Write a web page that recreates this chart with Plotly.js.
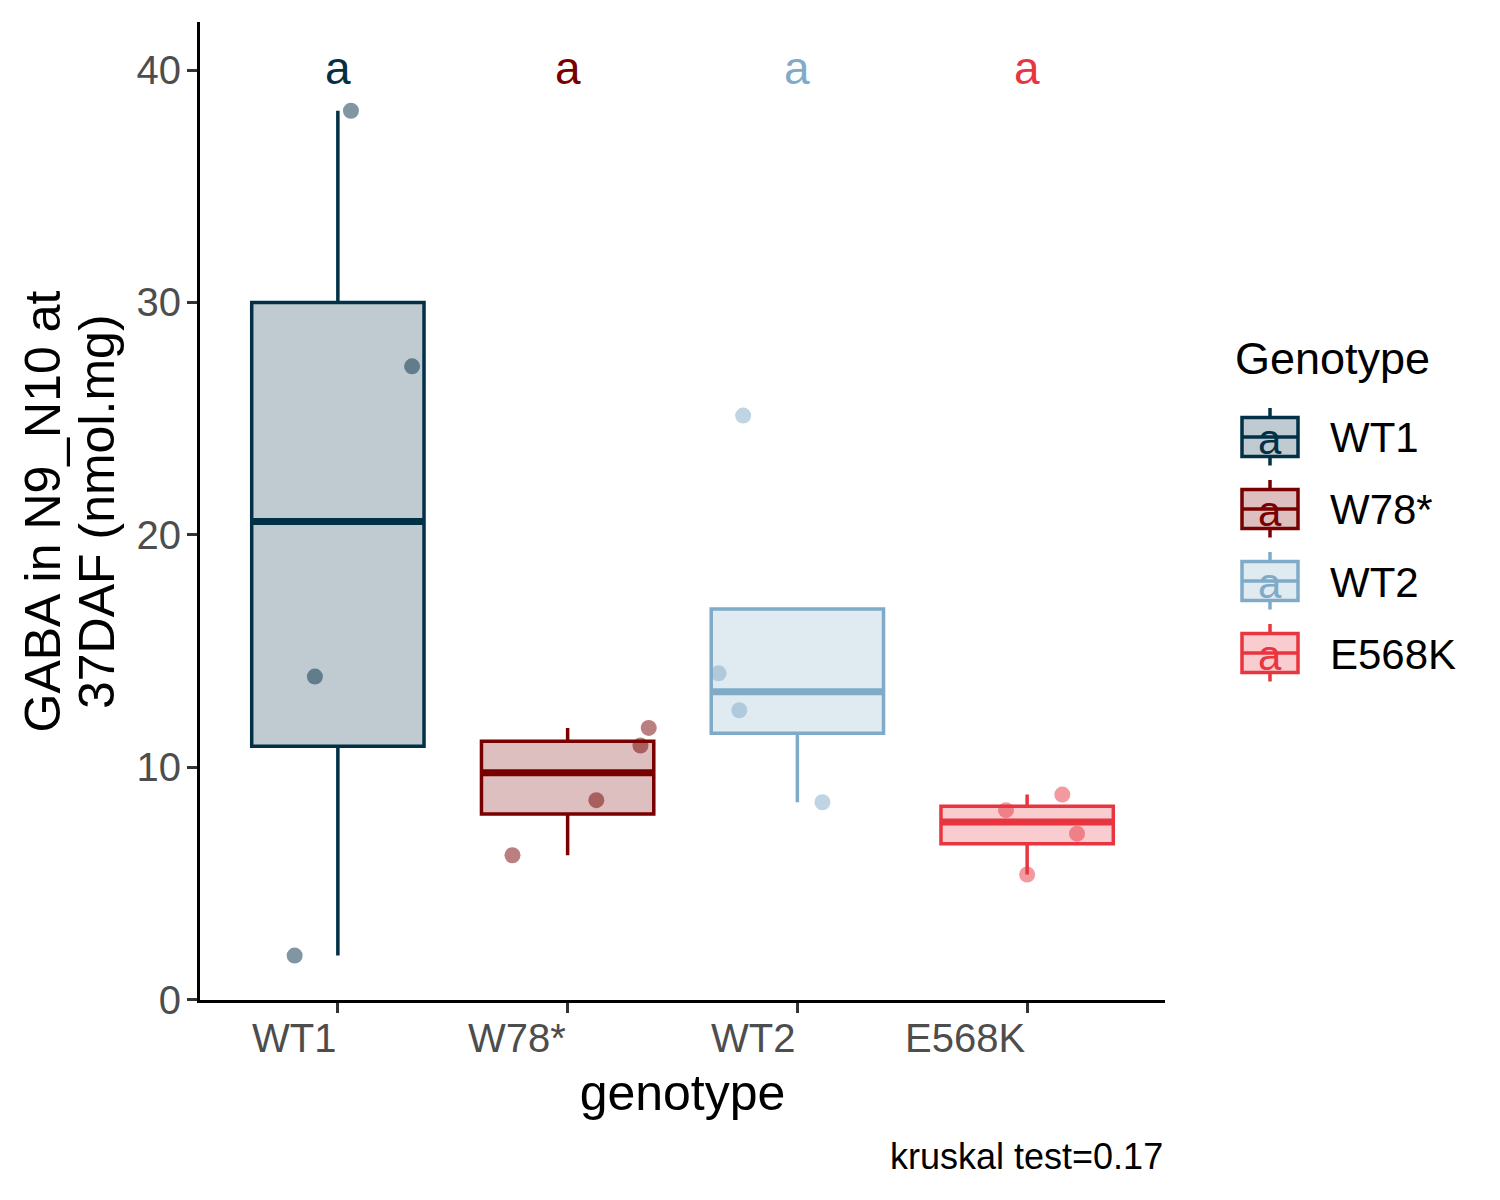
<!DOCTYPE html>
<html>
<head>
<meta charset="utf-8">
<script src="https://cdn.plot.ly/plotly-3.0.1.min.js"></script>
<style>
  html, body { margin: 0; padding: 0; background: #ffffff; }
  #myDiv { width: 1500px; height: 1200px; }
</style>
</head>
<body>
<div id="myDiv"></div>
<script>
// === Data === //
var genotypes = ['WT1', 'W78*', 'WT2', 'E568K'];
var colors = ['#023047', '#780000', '#7FABC8', '#E8353F'];

var wt1Values = [38.25, 27.25, 13.9, 1.89];
var wt1Jitter = [0.057, 0.323, -0.100, -0.188];
var w78Values = [11.69, 10.93, 8.58, 6.21];
var w78Jitter = [0.353, 0.317, 0.125, -0.240];
var wt2Values = [25.13, 14.04, 12.45, 8.49];
var wt2Jitter = [-0.236, -0.343, -0.253, 0.109];
var e568kValues = [8.82, 8.15, 7.14, 5.38];
var e568kJitter = [0.153, -0.092, 0.217, 0.0];

var letters = ['a', 'a', 'a', 'a'];
var letterY = 40.1;
var yTicks = [0, 10, 20, 30, 40];
var yTitleLines = ['GABA in N9_N10 at', '37DAF (nmol.mg)'];
var xTitle = 'genotype';
var legendTitle = 'Genotype';
var caption = 'kruskal test=0.17';

var values = [wt1Values, w78Values, wt2Values, e568kValues];
var jitters = [wt1Jitter, w78Jitter, wt2Jitter, e568kJitter];

// === Helpers === //
var FONT = '"Liberation Sans", Arial, sans-serif';
var boxWidth = 0.75;
var xRange = [0.4, 4.6];
var yRange = [-0.02, 42.07];

// plot area in pixels, used for the hand made legend and labels
var plotLeft = 200, plotRight = 1165, plotTop = 22, plotBottom = 1000;
function px(x){ return (x - plotLeft) / (plotRight - plotLeft); }
function py(y){ return (plotBottom - y) / (plotBottom - plotTop); }

function rgba(hex, a){
    var r = parseInt(hex.slice(1,3),16), g = parseInt(hex.slice(3,5),16), b = parseInt(hex.slice(5,7),16);
    return 'rgba(' + r + ',' + g + ',' + b + ',' + a + ')';
}

// R type 7 quantile, like ggplot's stat_boxplot
function quantile(arr, p){
    var s = arr.slice().sort(function(a,b){ return a-b; });
    var h = (s.length - 1) * p;
    var lo = Math.floor(h), hi = Math.ceil(h);
    return s[lo] + (h - lo) * (s[hi] - s[lo]);
}

function boxStats(vals){
    var q1 = quantile(vals, 0.25), med = quantile(vals, 0.5), q3 = quantile(vals, 0.75);
    var iqr = q3 - q1;
    var inside = vals.filter(function(v){ return v >= q1 - 1.5*iqr && v <= q3 + 1.5*iqr; });
    return {
        q1: q1, med: med, q3: q3,
        lf: Math.min(q1, Math.min.apply(null, inside)),
        uf: Math.max(q3, Math.max.apply(null, inside))
    };
}

// === Traces === //
var data = [];

// jittered points (under the boxes)
genotypes.forEach(function(g, i){
    var pos = i + 1;
    data.push({
        type: 'scatter',
        mode: 'markers',
        x: jitters[i].map(function(j){ return pos + j; }),
        y: values[i],
        xaxis: 'x', yaxis: 'y',
        marker: { size: 16, color: rgba(colors[i], 0.5), line: { width: 0 } },
        hoverinfo: 'skip',
        showlegend: false
    });
});

// boxes on an overlaying pair of axes so they sit above the points
genotypes.forEach(function(g, i){
    var pos = i + 1;
    var st = boxStats(values[i]);
    data.push({
        type: 'box',
        name: g,
        x: [pos],
        q1: [st.q1], median: [st.med], q3: [st.q3],
        lowerfence: [st.lf], upperfence: [st.uf],
        xaxis: 'x2', yaxis: 'y2',
        width: boxWidth,
        whiskerwidth: 0,
        boxpoints: false,
        fillcolor: rgba(colors[i], 0.25),
        line: { color: colors[i], width: 3.5 },
        hoverinfo: 'skip',
        showlegend: false
    });
    // thicker median line
    data.push({
        type: 'scatter',
        mode: 'lines',
        x: [pos - boxWidth/2, pos + boxWidth/2],
        y: [st.med, st.med],
        xaxis: 'x2', yaxis: 'y2',
        line: { color: colors[i], width: 7 },
        hoverinfo: 'skip',
        showlegend: false
    });
});

// === Annotations and legend === //
var annotations = [];
var shapes = [];

genotypes.forEach(function(g, i){
    var pos = i + 1;
    // group letters
    annotations.push({
        xref: 'x', yref: 'y', x: pos, y: letterY,
        text: letters[i], showarrow: false,
        xanchor: 'center', yanchor: 'middle',
        font: { family: FONT, size: 46, color: colors[i] }
    });
    // category tick labels, right aligned at the tick like hjust = 1
    annotations.push({
        xref: 'x', yref: 'paper', x: pos, y: py(1037.5),
        text: g, showarrow: false,
        xanchor: 'right', yanchor: 'middle',
        font: { family: FONT, size: 40, color: '#4D4D4D' }
    });

    // legend key
    var cy = 437 + 72 * i;
    shapes.push({
        type: 'rect', xref: 'paper', yref: 'paper',
        x0: px(1242), x1: px(1298), y0: py(cy + 19.5), y1: py(cy - 19.5),
        fillcolor: rgba(colors[i], 0.25),
        line: { color: colors[i], width: 3.5 }
    });
    shapes.push({
        type: 'line', xref: 'paper', yref: 'paper',
        x0: px(1270), x1: px(1270), y0: py(cy - 29), y1: py(cy - 19.5),
        line: { color: colors[i], width: 3.5 }
    });
    shapes.push({
        type: 'line', xref: 'paper', yref: 'paper',
        x0: px(1270), x1: px(1270), y0: py(cy + 19.5), y1: py(cy + 28.5),
        line: { color: colors[i], width: 3.5 }
    });
    shapes.push({
        type: 'line', xref: 'paper', yref: 'paper',
        x0: px(1242), x1: px(1298), y0: py(cy), y1: py(cy),
        line: { color: colors[i], width: 3.5 }
    });
    annotations.push({
        xref: 'paper', yref: 'paper', x: px(1270), y: py(cy + 2),
        text: letters[i], showarrow: false,
        xanchor: 'center', yanchor: 'middle',
        font: { family: FONT, size: 42, color: colors[i] }
    });
    annotations.push({
        xref: 'paper', yref: 'paper', x: px(1328), y: py(cy + 1),
        text: g, showarrow: false,
        xanchor: 'left', yanchor: 'middle',
        font: { family: FONT, size: 42, color: '#000000' }
    });
});

annotations.push({
    xref: 'paper', yref: 'paper', x: px(1233), y: py(358),
    text: legendTitle, showarrow: false,
    xanchor: 'left', yanchor: 'middle',
    font: { family: FONT, size: 45, color: '#000000' }
});

// y title, two rotated lines with ggplot's tighter line spacing
var yTitleX = [42.5, 97];
yTitleLines.forEach(function(line, k){
    annotations.push({
        xref: 'paper', yref: 'paper', x: px(yTitleX[k]), y: py(512),
        text: line, showarrow: false, textangle: -90,
        xanchor: 'center', yanchor: 'middle',
        font: { family: FONT, size: 50, color: '#000000' }
    });
});

annotations.push({
    xref: 'paper', yref: 'paper', x: 1.0, y: py(1156),
    text: caption, showarrow: false,
    xanchor: 'right', yanchor: 'middle',
    font: { family: FONT, size: 36, color: '#000000' }
});

// === Layout === //
var layout = {
    width: 1500,
    height: 1200,
    margin: { l: plotLeft, r: 1500 - plotRight, t: plotTop, b: 1200 - plotBottom, pad: 0 },
    paper_bgcolor: '#ffffff',
    plot_bgcolor: '#ffffff',
    showlegend: false,
    font: { family: FONT, color: '#000000' },
    xaxis: {
        range: xRange,
        tickvals: [1, 2, 3, 4],
        showticklabels: false,
        ticks: 'outside', ticklen: 10, tickwidth: 3, tickcolor: '#333333',
        showline: true, linewidth: 3, linecolor: '#000000',
        showgrid: false, zeroline: false, fixedrange: true,
        title: { text: xTitle, font: { family: FONT, size: 50, color: '#000000' }, standoff: 63 }
    },
    yaxis: {
        range: yRange,
        tickvals: yTicks,
        ticktext: yTicks.map(String),
        tickfont: { family: FONT, size: 40, color: '#4D4D4D' },
        ticks: 'outside', ticklen: 10, tickwidth: 3, tickcolor: '#333333',
        ticklabelstandoff: -2,
        showline: true, linewidth: 3, linecolor: '#000000',
        showgrid: false, zeroline: false, fixedrange: true
    },
    xaxis2: { overlaying: 'x', range: xRange, visible: false, fixedrange: true },
    yaxis2: { overlaying: 'y', range: yRange, visible: false, fixedrange: true },
    boxmode: 'overlay',
    annotations: annotations,
    shapes: shapes
};

Plotly.newPlot('myDiv', data, layout, { displayModeBar: false, staticPlot: true });
</script>
</body>
</html>
